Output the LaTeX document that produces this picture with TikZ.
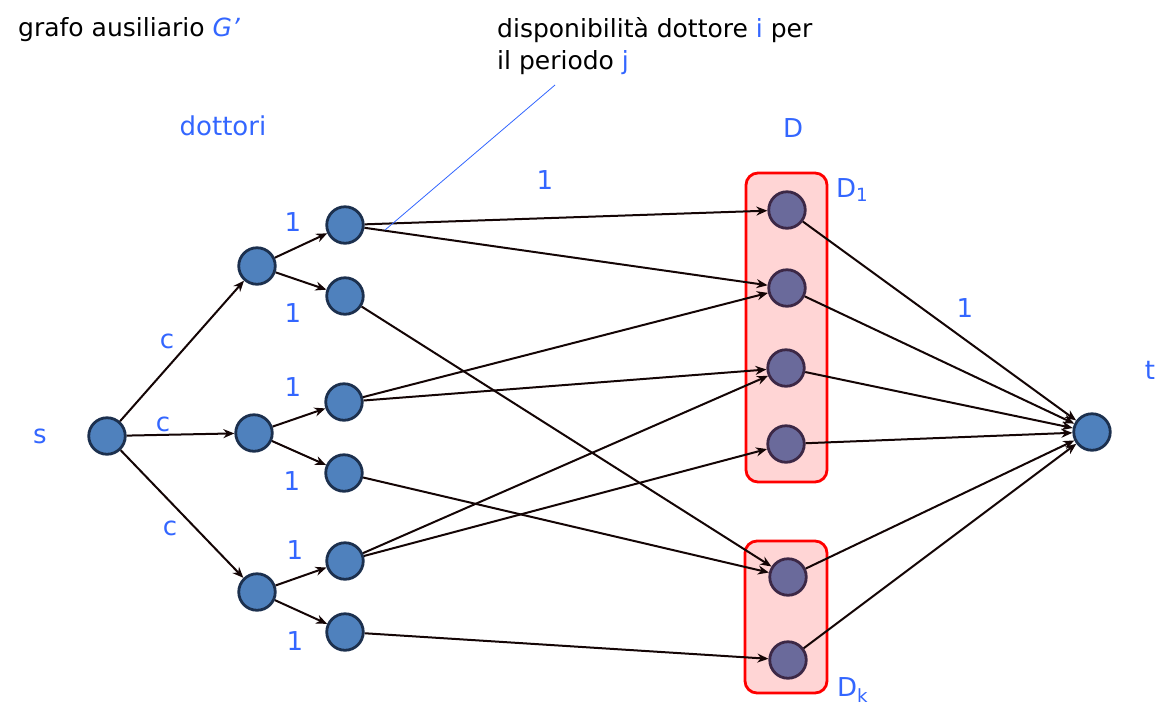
\documentclass[tikz,border=0pt]{standalone}
\usepackage{fontspec}
\setmainfont{DejaVu Sans}
\usetikzlibrary{arrows.meta}
\definecolor{lblue}{RGB}{51,102,255}
\definecolor{nfill}{RGB}{79,129,189}
\definecolor{ndraw}{RGB}{28,48,78}
\definecolor{dfill}{RGB}{106,106,155}
\definecolor{ddraw}{RGB}{60,40,70}
\definecolor{boxfill}{RGB}{255,213,213}
\definecolor{arcc}{RGB}{20,5,5}
\begin{document}
\begin{tikzpicture}[x=1pt,y=-1pt,
  vnode/.style={circle,draw=ndraw,fill=nfill,line width=2.8pt,minimum size=36.5pt,inner sep=0pt},
  dnode/.style={circle,draw=ddraw,fill=dfill,line width=2.8pt,minimum size=36.5pt,inner sep=0pt},
  arc/.style={-{Stealth[length=11pt,width=9pt]},line width=2pt,draw=arcc},
  lbl/.style={text=lblue,font=\fontsize{26}{30}\selectfont,inner sep=0pt},
  txt/.style={text=black,font=\fontsize{25}{32}\selectfont,inner sep=0pt},
  grp/.style={draw=red,fill=boxfill,line width=2.8pt,rounded corners=12pt,inner sep=0pt}]
\useasboundingbox (0,0) rectangle (1175,716);
% group boxes
\node[grp,minimum width=81pt,minimum height=309pt] (box1) at (786.5,327.5) {};
\node[grp,minimum width=82pt,minimum height=152pt] (boxk) at (786,617) {};
% nodes
\node[vnode] (s) at (107,436) {};
\node[vnode] (d1) at (257,266) {};
\node[vnode] (d2) at (254,433) {};
\node[vnode] (d3) at (257,592) {};
\node[vnode] (p1) at (345,225) {};
\node[vnode] (p2) at (345,296) {};
\node[vnode] (p3) at (344,402) {};
\node[vnode] (p4) at (344,473) {};
\node[vnode] (p5) at (345,561) {};
\node[vnode] (p6) at (345,632) {};
\node[dnode] (q1) at (787,210) {};
\node[dnode] (q2) at (787,288) {};
\node[dnode] (q3) at (786,368) {};
\node[dnode] (q4) at (786,444) {};
\node[dnode] (k1) at (788,577) {};
\node[dnode] (k2) at (788,660) {};
\node[vnode] (t) at (1092,432) {};
% edges
\draw[arc] (s) -- (d1);
\draw[arc] (s) -- (d2);
\draw[arc] (s) -- (d3);
\draw[arc] (d1) -- (p1);
\draw[arc] (d1) -- (p2);
\draw[arc] (d2) -- (p3);
\draw[arc] (d2) -- (p4);
\draw[arc] (d3) -- (p5);
\draw[arc] (d3) -- (p6);
\draw[arc] (p1) -- (q1);
\draw[arc] (p1) -- (q2);
\draw[arc] (p2) -- (k1);
\draw[arc] (p3) -- (q2);
\draw[arc] (p3) -- (q3);
\draw[arc] (p4) -- (k1);
\draw[arc] (p5) -- (q3);
\draw[arc] (p5) -- (q4);
\draw[arc] (p6) -- (k2);
\draw[arc] (q1) -- (t);
\draw[arc] (q2) -- (t);
\draw[arc] (q3) -- (t);
\draw[arc] (q4) -- (t);
\draw[arc] (k1) -- (t);
\draw[arc] (k2) -- (t);
% labels
\node[txt,anchor=base west] (title) at (18,36) {grafo ausiliario \textcolor{lblue}{\textit{G’}}};
\node[txt,anchor=north west,align=left] (ann) at (497,17) {disponibilità dottore \textcolor{lblue}{i} per\\il periodo \textcolor{lblue}{j}};
\coordinate (a1) at (555,85);
\coordinate (a2) at (385,230);
\draw[lblue,line width=0.8pt] (a1) -- (a2);
\node[lbl] (ldott) at (223,126) {dottori};
\node[lbl] (lD) at (793,128) {D};
\node[lbl,anchor=west] (lD1) at (836,190) {D\textsubscript{1}};
\node[lbl,anchor=west] (lDk) at (837,690) {D\textsubscript{k}};
\node[lbl] (ls) at (40,436) {s};
\node[lbl] (lt) at (1150,370) {t};
\node[lbl] (lc1) at (167,341) {c};
\node[lbl] (lc2) at (163,424) {c};
\node[lbl] (lc3) at (170,528) {c};
\node[lbl] (l1a) at (293,222) {1};
\node[lbl] (l1b) at (293,313) {1};
\node[lbl] (l1c) at (293,387) {1};
\node[lbl] (l1d) at (292,481) {1};
\node[lbl] (l1e) at (295,550) {1};
\node[lbl] (l1f) at (295,641) {1};
\node[lbl] (l1g) at (545,180) {1};
\node[lbl] (l1h) at (965,308) {1};
\end{tikzpicture}
\end{document}
